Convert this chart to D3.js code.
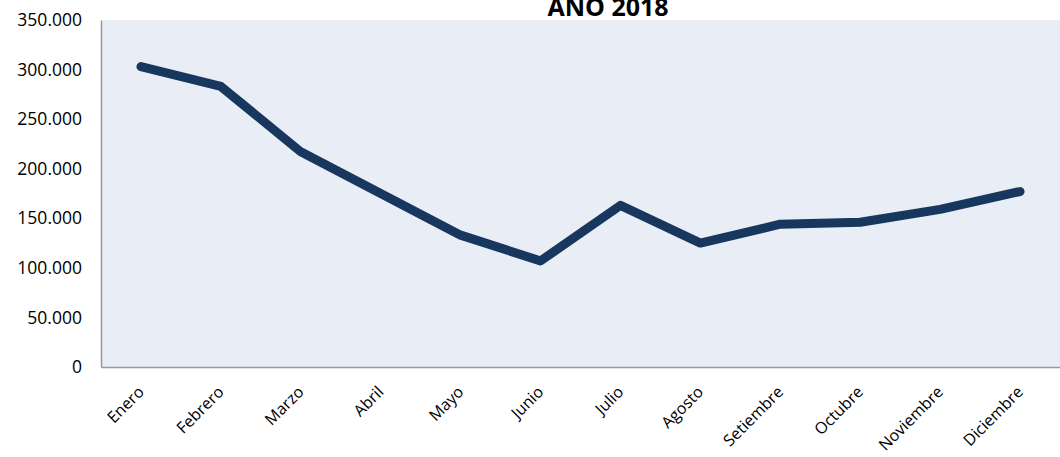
<!DOCTYPE html>
<html>
<head>
<meta charset="utf-8">
<script src="https://d3js.org/d3.v7.min.js"></script>
<style>
  body { margin: 0; background: #fff; }
  svg { display: block; }
  text { font-family: "Open Sans", "DejaVu Sans", sans-serif; fill: #000; }
</style>
</head>
<body>
<svg id="chart"></svg>
<script>
  // Monthly values
  const months = ["Enero", "Febrero", "Marzo", "Abril", "Mayo", "Junio",
                  "Julio", "Agosto", "Setiembre", "Octubre", "Noviembre", "Diciembre"];
  const values = [303000, 283000, 217000, 175000, 133000, 107000,
                  163000, 125000, 144000, 146000, 159000, 177000];
  const yTicks = [0, 50000, 100000, 150000, 200000, 250000, 300000, 350000];

  const width = 1060, height = 457;
  const margin = { top: 20, right: 0, bottom: 90, left: 101 };

  const svg = d3.select("#chart")
    .attr("width", width)
    .attr("height", height);

  const x = d3.scaleBand()
    .domain(months)
    .range([margin.left, width - margin.right]);

  const y = d3.scaleLinear()
    .domain([0, 350000])
    .range([height - margin.bottom, margin.top]);

  // plot background
  svg.append("rect")
    .attr("x", margin.left)
    .attr("y", margin.top)
    .attr("width", width - margin.left - margin.right)
    .attr("height", y(0) - margin.top)
    .attr("fill", "#e9edf5");

  // title (clipped at the top like the original)
  svg.append("text")
    .attr("x", 608)
    .attr("y", 16)
    .attr("text-anchor", "middle")
    .attr("font-size", 25)
    .attr("font-weight", "bold")
    .text("AÑO 2018");

  const fmt = d => d3.format(",")(d).replace(/,/g, ".");

  // y axis
  const yAxis = svg.append("g")
    .attr("transform", `translate(${margin.left},0)`)
    .call(d3.axisLeft(y).tickValues(yTicks).tickFormat(fmt).tickSize(0).tickPadding(19));
  yAxis.select(".domain").attr("stroke", "#999").attr("stroke-width", 1.5);
  yAxis.selectAll("text").attr("font-size", 17.5).attr("font-family", "Open Sans, sans-serif");

  // x axis
  const xAxis = svg.append("g")
    .attr("transform", `translate(0,${y(0)})`)
    .call(d3.axisBottom(x).tickSize(0).tickPadding(0));
  xAxis.select(".domain").attr("stroke", "#999").attr("stroke-width", 1.5);
  xAxis.selectAll("text")
    .attr("font-size", 16)
    .attr("font-family", "Open Sans, sans-serif")
    .attr("text-anchor", "end")
    .attr("dy", 0)
    .attr("transform", "translate(4,26) rotate(-45)");

  // line
  const line = d3.line()
    .x((d, i) => x(months[i]) + x.bandwidth() / 2)
    .y(d => y(d));

  svg.append("path")
    .datum(values)
    .attr("fill", "none")
    .attr("stroke", "#17375e")
    .attr("stroke-width", 9)
    .attr("stroke-linecap", "round")
    .attr("stroke-linejoin", "round")
    .attr("d", line);
</script>
</body>
</html>
